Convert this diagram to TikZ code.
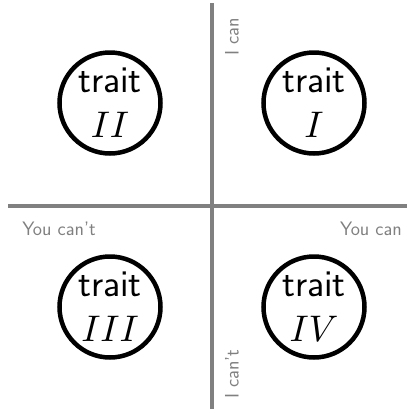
\documentclass[tikz,border=0pt]{standalone}
\newcommand{\bignum}[1]{\scalebox{3.7}{\normalsize$#1$}}
\begin{document}
\begin{tikzpicture}[x=1pt,y=-1pt,
  axisline/.style={draw=black!50, line width=4pt},
  traitnode/.style={circle, draw=black, line width=4.5pt, minimum size=101pt, inner sep=0pt, align=center,
    font=\fontsize{38}{45}\selectfont\sffamily},
  lab/.style={text=black!50, font=\fontsize{19.5}{22}\selectfont\sffamily, inner sep=0pt}]
\useasboundingbox (0,0) rectangle (407,413);
\coordinate (vt) at (212,3);
\coordinate (vb) at (212,409);
\coordinate (hl) at (8,206);
\coordinate (hr) at (407,206);
\draw[axisline] (vt) -- (vb);
\draw[axisline] (hl) -- (hr);
\node[traitnode] (t1) at (314,103) {trait\\\bignum{I}};
\node[traitnode] (t2) at (110,103) {trait\\\bignum{II}};
\node[traitnode] (t3) at (110,307) {trait\\\bignum{III}};
\node[traitnode] (t4) at (314,307) {trait\\\bignum{IV}};
\node[lab, rotate=90] (ican) at (232,37) {I can};
\node[lab, rotate=90] (icant) at (232,374) {I can't};
\node[lab] (youcant) at (59,229) {You can't};
\node[lab] (youcan) at (371,229) {You can};
\end{tikzpicture}
\end{document}
